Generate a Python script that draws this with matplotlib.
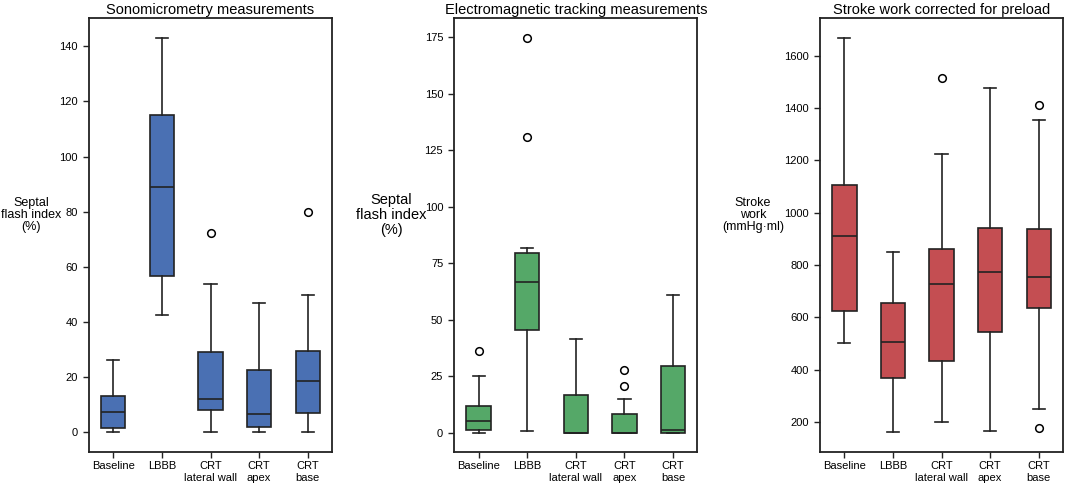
import matplotlib
matplotlib.use("Agg")
import matplotlib.pyplot as plt

plt.rcParams['font.family'] = ['Liberation Sans', 'DejaVu Sans']

categories = ["Baseline", "LBBB", "CRT\nlateral wall", "CRT\napex", "CRT\nbase"]

# Sonomicrometry: whislo, q1, med, q3, whishi, outliers
sono_whislo = [0, 42.6, 0, 0, 0]
sono_q1 = [1.4, 56.6, 8.1, 1.8, 6.9]
sono_med = [7.2, 89.1, 12.1, 6.6, 18.4]
sono_q3 = [13.2, 115.1, 29.1, 22.6, 29.6]
sono_whishi = [26.2, 143.0, 53.6, 46.9, 49.8]
sono_fliers = [[], [], [72.2], [], [80.0]]

# Electromagnetic tracking
em_whislo = [0, 0.7, 0, 0, 0]
em_q1 = [1.0, 45.4, 0, 0, 0]
em_med = [5.3, 66.7, 0, 0, 1.3]
em_q3 = [11.7, 79.4, 16.7, 8.3, 29.4]
em_whishi = [25.1, 81.9, 41.5, 14.9, 60.9]
em_fliers = [[35.9], [131.1, 174.8], [], [20.8, 27.5], []]

# Stroke work
sw_whislo = [502, 160, 201, 167, 248]
sw_q1 = [622, 367, 431, 542, 634]
sw_med = [910, 505, 727, 772, 755]
sw_q3 = [1105, 654, 861, 943, 936]
sw_whishi = [1669, 851, 1223, 1476, 1354]
sw_fliers = [[], [], [1514], [], [178, 1410]]

titles = ["Sonomicrometry measurements", "Electromagnetic tracking measurements",
          "Stroke work corrected for preload"]
ylabels = ["Septal\nflash index\n(%)", "Septal\nflash index\n(%)", "Stroke\nwork\n(mmHg\u00b7ml)"]
colors = ["#4a70b3", "#55a868", "#c44e52"]
yticks = [list(range(0, 141, 20)), list(range(0, 176, 25)), list(range(200, 1601, 200))]
ylims = [(-7.2, 150.3), (-8.6, 183.6), (85, 1744)]

datasets = [
    (sono_whislo, sono_q1, sono_med, sono_q3, sono_whishi, sono_fliers),
    (em_whislo, em_q1, em_med, em_q3, em_whishi, em_fliers),
    (sw_whislo, sw_q1, sw_med, sw_q3, sw_whishi, sw_fliers),
]

fig = plt.figure(figsize=(10.65, 4.86), dpi=100)
lefts = [0.0836, 0.4266, 0.770]
ylabel_x = [31, 391, 753]
ylabel_size = [9, 10.5, 9]
edge = "#222222"

for i in range(3):
    ax = fig.add_axes([lefts[i], 0.070, 0.2282, 0.893])
    wl, q1, md, q3, wh, fl = datasets[i]
    stats = []
    for j in range(5):
        stats.append(dict(whislo=wl[j], q1=q1[j], med=md[j], q3=q3[j], whishi=wh[j],
                          fliers=fl[j], label=categories[j]))
    ax.bxp(stats, positions=range(5), widths=0.5, patch_artist=True,
           boxprops=dict(facecolor=colors[i], edgecolor=edge, linewidth=1.2),
           medianprops=dict(color=edge, linewidth=1.2),
           whiskerprops=dict(color=edge, linewidth=1.2),
           capprops=dict(color=edge, linewidth=1.2),
           flierprops=dict(marker='o', markerfacecolor='white', markeredgecolor='black',
                           markersize=5.5, markeredgewidth=1.1))
    ax.set_xlim(-0.5, 4.5)
    ax.set_ylim(*ylims[i])
    ax.set_yticks(yticks[i])
    ax.tick_params(axis='both', labelsize=8, length=4.5, width=1, color='#222222')
    ax.tick_params(axis='x', pad=2)
    for s in ax.spines.values():
        s.set_linewidth(1.3)
        s.set_color('#222222')
    ax.set_title(titles[i], fontsize=10.5, pad=3)
    fig.text(ylabel_x[i] / 1065, 1 - 215 / 486, ylabels[i], ha='center', va='center',
             fontsize=ylabel_size[i], linespacing=1.05)

fig.savefig("out.png", dpi=100)
